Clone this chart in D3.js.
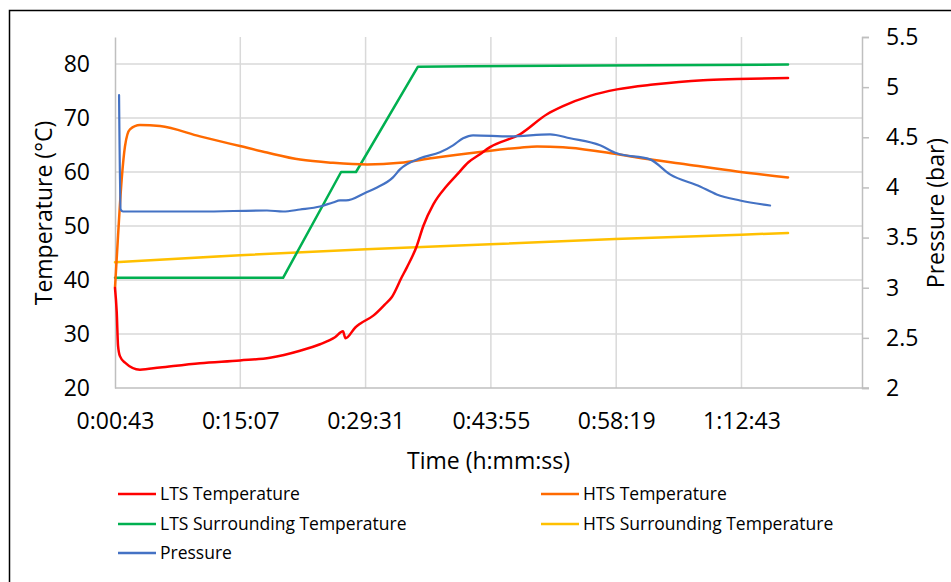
<!DOCTYPE html>
<html>
<head>
<meta charset="utf-8">
<script src="https://cdn.jsdelivr.net/npm/d3@7"></script>
<style>
  html, body { margin: 0; padding: 0; background: #fff; }
  svg { display: block; font-family: "Open Sans", "Noto Sans", sans-serif; }
</style>
</head>
<body>
<svg id="chart" width="951" height="582"></svg>
<script>
// Elapsed time in seconds, temperatures in °C, pressure in bar
const ltsTime = [43, 55, 64, 77, 112, 215, 353, 629, 905, 1112, 1319, 1457, 1560, 1615, 1632, 1700, 1733, 1824, 1905, 1951, 2020, 2055, 2124, 2169, 2238, 2330, 2401, 2480, 2560, 2629, 2836, 3022, 3132, 3319, 3505, 3753, 4098, 4332, 4684];
const ltsTemp = [38.5, 34.0, 27.8, 25.9, 24.7, 23.4, 23.8, 24.6, 25.1, 25.6, 26.9, 28.1, 29.4, 30.5, 29.2, 31.2, 31.9, 33.4, 35.5, 36.8, 40.5, 42.3, 46.3, 50.0, 54.0, 57.4, 59.5, 61.8, 63.3, 64.6, 67.0, 70.7, 72.2, 74.1, 75.3, 76.2, 77.0, 77.2, 77.4];

const htsTime = [43, 57, 89, 112, 146, 215, 353, 629, 905, 1091, 1319, 1546, 1781, 2008, 2236, 2560, 2836, 2953, 3132, 3408, 3643, 3987, 4332, 4684];
const htsTemp = [38.6, 45.0, 58.6, 64.8, 67.9, 68.7, 68.5, 66.6, 64.8, 63.6, 62.3, 61.7, 61.4, 61.7, 62.6, 63.7, 64.5, 64.7, 64.6, 63.7, 62.7, 61.4, 60.1, 59.0];

const ltsSurrTime = [43, 1202, 1602, 1705, 2132, 2491, 3388, 4684];
const ltsSurrTemp = [40.4, 40.4, 60.0, 60.0, 79.5, 79.6, 79.7, 79.9];

const htsSurrTime = [43, 905, 1774, 2629, 3491, 4360, 4684];
const htsSurrTemp = [43.3, 44.6, 45.7, 46.6, 47.6, 48.4, 48.7];

const pressTime = [71, 82, 98, 629, 1091, 1202, 1319, 1457, 1546, 1595, 1636, 1774, 1850, 1960, 2008, 2146, 2284, 2374, 2443, 2512, 2767, 3043, 3181, 3388, 3503, 3732, 3870, 4077, 4192, 4353, 4560];
const pressure = [4.92, 3.78, 3.76, 3.76, 3.77, 3.76, 3.78, 3.81, 3.85, 3.87, 3.87, 3.95, 4.00, 4.10, 4.18, 4.29, 4.35, 4.42, 4.49, 4.52, 4.51, 4.53, 4.49, 4.42, 4.34, 4.28, 4.13, 4.01, 3.93, 3.87, 3.82];

const timeTicks = [43, 907, 1771, 2635, 3499, 4363];
const tempTicks = [20, 30, 40, 50, 60, 70, 80];
const pressTicks = [2, 2.5, 3, 3.5, 4, 4.5, 5, 5.5];

const seriesNames = ["LTS Temperature", "HTS Temperature", "LTS Surrounding Temperature", "HTS Surrounding Temperature", "Pressure"];
const seriesColors = ["#FF0000", "#FF6A00", "#00B050", "#FFC000", "#4472C4"];

const svg = d3.select("#chart");
const plotLeft = 115, plotRight = 862, plotTop = 37, plotBottom = 388;

const x = d3.scaleLinear().domain([43, 5194]).range([plotLeft, plotRight]);
const yT = d3.scaleLinear().domain([20, 85]).range([plotBottom, plotTop]);
const yP = d3.scaleLinear().domain([2, 5.5]).range([plotBottom, plotTop]);

const fmtTime = s => {
  const h = Math.floor(s / 3600), m = Math.floor((s % 3600) / 60), sec = Math.round(s % 60);
  return h + ":" + String(m).padStart(2, "0") + ":" + String(sec).padStart(2, "0");
};

// outer frame
svg.append("rect").attr("x", 9.5).attr("y", 10.5).attr("width", 960).attr("height", 600)
  .attr("fill", "#fff").attr("stroke", "#000").attr("stroke-width", 1.5);

// gridlines
const grid = svg.append("g").attr("stroke", "#D9D9D9").attr("stroke-width", 1.5);
grid.selectAll("line.h").data(tempTicks.slice(1)).join("line")
  .attr("x1", plotLeft).attr("x2", plotRight).attr("y1", d => yT(d)).attr("y2", d => yT(d));
grid.selectAll("line.v").data(timeTicks.slice(1)).join("line")
  .attr("x1", d => x(d)).attr("x2", d => x(d)).attr("y1", plotTop).attr("y2", plotBottom);

// axes
const axisColor = "#BFBFBF";
const tickFont = "23px";
const xAxis = svg.append("g").attr("transform", `translate(0,${plotBottom})`)
  .call(d3.axisBottom(x).tickValues(timeTicks).tickFormat(fmtTime).tickSize(0).tickPadding(25));
const yAxisL = svg.append("g").attr("transform", `translate(${plotLeft},0)`)
  .call(d3.axisLeft(yT).tickValues(tempTicks).tickSize(0).tickPadding(25));
const yAxisR = svg.append("g").attr("transform", `translate(${plotRight},0)`)
  .call(d3.axisRight(yP).tickValues(pressTicks).tickFormat(d3.format("")).tickSize(7).tickPadding(17));
[xAxis, yAxisL, yAxisR].forEach(g => {
  g.select(".domain").attr("stroke", axisColor).attr("stroke-width", 1.5);
  g.selectAll(".tick line").attr("stroke", axisColor).attr("stroke-width", 1.5);
  g.selectAll("text").attr("fill", "#000").style("font-size", tickFont).style("font-family", "'Open Sans', sans-serif");
});
xAxis.select(".domain").attr("d", `M${plotLeft},0H${plotRight + 7}`);

// axis titles
svg.append("text").attr("x", (plotLeft + plotRight) / 2).attr("y", 469).attr("text-anchor", "middle")
  .style("font-size", "23px").text("Time (h:mm:ss)");
svg.append("text").attr("transform", `translate(52,213) rotate(-90)`)
  .attr("text-anchor", "middle").style("font-size", "23px").text("Temperature (°C)");
svg.append("text").attr("transform", `translate(944,213) rotate(-90)`)
  .attr("text-anchor", "middle").style("font-size", "23px").text("Pressure (bar)");

// series
const tempLine = (curve) => d3.line().x(d => x(d[0])).y(d => yT(d[1])).curve(curve);
const zip = (a, b) => a.map((v, i) => [v, b[i]]);
const plot = svg.append("g").attr("fill", "none").attr("stroke-linejoin", "round").attr("stroke-linecap", "round");

plot.append("path").attr("d", tempLine(d3.curveLinear)(zip(htsSurrTime, htsSurrTemp)))
  .attr("stroke", seriesColors[3]).attr("stroke-width", 2.5);
plot.append("path").attr("d", tempLine(d3.curveLinear)(zip(ltsSurrTime, ltsSurrTemp)))
  .attr("stroke", seriesColors[2]).attr("stroke-width", 2.5);
plot.append("path").attr("d", tempLine(d3.curveMonotoneX)(zip(htsTime, htsTemp)))
  .attr("stroke", seriesColors[1]).attr("stroke-width", 2.5);
plot.append("path").attr("d", tempLine(d3.curveMonotoneX)(zip(ltsTime, ltsTemp)))
  .attr("stroke", seriesColors[0]).attr("stroke-width", 2.5);
plot.append("path")
  .attr("d", d3.line().x(d => x(d[0])).y(d => yP(d[1])).curve(d3.curveMonotoneX)(zip(pressTime, pressure)))
  .attr("stroke", seriesColors[4]).attr("stroke-width", 2.2);

// legend
const legendPos = [[118, 494], [541, 494], [118, 524], [541, 524], [118, 553]];
const legend = svg.append("g");
seriesNames.forEach((name, i) => {
  const [lx, ly] = legendPos[i];
  legend.append("line").attr("x1", lx).attr("x2", lx + 38).attr("y1", ly).attr("y2", ly)
    .attr("stroke", seriesColors[i]).attr("stroke-width", 2.5);
  legend.append("text").attr("x", lx + 42).attr("y", ly + 6).style("font-size", "17.5px").text(name);
});
</script>
</body>
</html>
